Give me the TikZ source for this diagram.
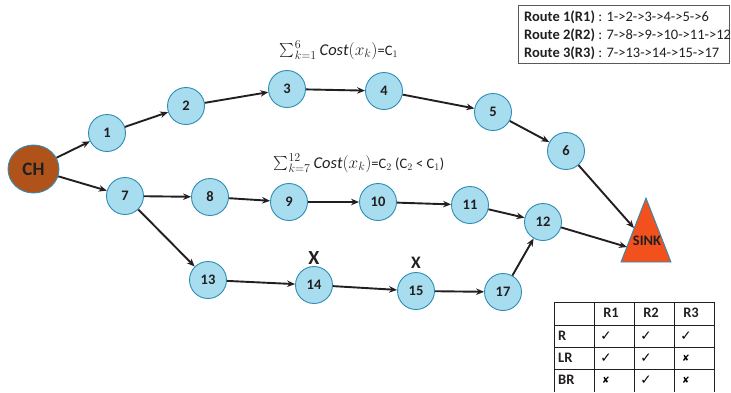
\documentclass[tikz,border=0pt]{standalone}
\usepackage{fontspec}
\setmainfont{Carlito}
\newfontfamily\symfont{DejaVu Sans}
\usetikzlibrary{arrows.meta,shapes.geometric}
\definecolor{nodefill}{HTML}{A8DCEF}
\definecolor{nodeedge}{HTML}{2F8DB6}
\definecolor{chfill}{HTML}{B0531B}
\definecolor{sinkfill}{HTML}{F2511E}
\definecolor{ink}{HTML}{231F20}
\tikzset{
  hop/.style={circle, draw=nodeedge, line width=0.9pt, fill=nodefill,
    minimum size=37pt, inner sep=0pt, text=ink, font=\bfseries\fontsize{14.5}{16}\selectfont},
  link/.style={draw=ink, line width=1.9pt, -{Stealth[length=8pt,width=6.5pt]}},
  lbl/.style={text=ink, font=\fontsize{14.5}{16}\selectfont, inner sep=0pt},
  cell/.style={text=ink, font=\bfseries\fontsize{14.5}{16}\selectfont, inner sep=0pt},
  brk/.style={text=ink, font=\bfseries\fontsize{20}{22}\selectfont, inner sep=0pt}
}
\newcommand{\yes}{{\symfont\fontsize{13.5}{14}\selectfont ✓}}
\newcommand{\no}{{\symfont\fontsize{9}{12}\selectfont ✘}}
\newcommand{\bigsum}{\mathop{\vcenter{\hbox{\scalebox{1.4}{$\textstyle\sum$}}}}\nolimits}
\newcommand{\costsum}[2]{{\fontsize{16.5}{18}\selectfont$\bigsum_{k=#1}^{#2}\mathit{Cost}(x_k)$}}
\begin{document}
\begin{tikzpicture}[x=1pt,y=-1pt]
\useasboundingbox (0,0) rectangle (731,392);

% cluster head and sink
\node[ellipse, draw=nodeedge, line width=0.9pt, fill=chfill, minimum width=51pt,
      minimum height=48pt, inner sep=0pt, text=ink, font=\bfseries\fontsize{19}{21}\selectfont]
      (ch) at (33.5,169) {CH};
\draw[draw=nodeedge, line width=0.9pt, fill=sinkfill] (646,198) -- (671,262) -- (621,262) -- cycle;
\node[cell] (sink) at (647,241) {SINK};
\coordinate (sinkA) at (634,228);
\coordinate (sinkB) at (627,247);

% route 1
\node[hop] (n1) at (107,133) {1};
\node[hop] (n2) at (186,106) {2};
\node[hop] (n3) at (287,89) {3};
\node[hop] (n4) at (384,91) {4};
\node[hop] (n5) at (493,112) {5};
\node[hop] (n6) at (566,151) {6};
% route 2
\node[hop] (n7) at (125,196) {7};
\node[hop] (n8) at (210,197) {8};
\node[hop] (n9) at (289,202) {9};
\node[hop] (n10) at (378,202) {10};
\node[hop] (n11) at (470,205) {11};
\node[hop] (n12) at (543,222) {12};
% route 3
\node[hop] (n13) at (208,280) {13};
\node[hop] (n14) at (314,285) {14};
\node[hop] (n15) at (416,291) {15};
\node[hop] (n17) at (503,292) {17};

% broken links
\node[brk] (x14) at (314,258) {X};
\node[brk, font=\bfseries\fontsize{17.5}{20}\selectfont] (x15) at (416,263) {X};

% links
\draw[link] (ch) -- (n1);
\draw[link] (n1) -- (n2);
\draw[link] (n2) -- (n3);
\draw[link] (n3) -- (n4);
\draw[link] (n4) -- (n5);
\draw[link] (n5) -- (n6);
\draw[link] (n6) -- (sinkA);
\draw[link] (ch) -- (n7);
\draw[link] (n7) -- (n8);
\draw[link] (n8) -- (n9);
\draw[link] (n9) -- (n10);
\draw[link] (n10) -- (n11);
\draw[link] (n11) -- (n12);
\draw[link] (n12) -- (sinkB);
\draw[link] (n7) -- (n13);
\draw[link] (n13) -- (n14);
\draw[link] (n14) -- (n15);
\draw[link] (n15) -- (n17);
\draw[link] (n17) -- (n12);

% path costs
\node[lbl] (cost1) at (339,50) {\costsum{1}{6}=C$_1$};
\node[lbl] (cost2) at (359,163) {\costsum{7}{12}=C$_2$ (C$_2$ < C$_1$)};

% route legend
\draw[draw=black!65, line width=0.8pt] (518,5) rectangle (729,63);
\node[lbl, anchor=west] (r1) at (524,17) {\textbf{Route 1(R1)} : 1->2->3->4->5->6};
\node[lbl, anchor=west] (r2) at (524,35) {\textbf{Route 2(R2)} : 7->8->9->10->11->12};
\node[lbl, anchor=west] (r3) at (524,53) {\textbf{Route 3(R3)} : 7->13->14->15->17};

% reliability table
\draw[draw=ink, line width=0.8pt] (554,392) -- (554,302) -- (714,302) -- (714,392);
\foreach \y in {325,347,369} \draw[draw=ink, line width=0.8pt] (554,\y) -- (714,\y);
\foreach \x in {594,634,674} \draw[draw=ink, line width=0.8pt] (\x,302) -- (\x,392);
\node[cell] (h1) at (611,313) {R1};
\node[cell] (h2) at (651,313) {R2};
\node[cell] (h3) at (691,313) {R3};
\node[cell, anchor=west] (rR) at (558,336) {R};
\node[cell, anchor=west] (rLR) at (558,358) {LR};
\node[cell, anchor=west] (rBR) at (558,380) {BR};
\node[inner sep=0pt] (c11) at (606,336) {\yes};
\node[inner sep=0pt] (c12) at (646,336) {\yes};
\node[inner sep=0pt] (c13) at (686,336) {\yes};
\node[inner sep=0pt] (c21) at (606,358) {\yes};
\node[inner sep=0pt] (c22) at (646,358) {\yes};
\node[inner sep=0pt] (c23) at (686,358) {\no};
\node[inner sep=0pt] (c31) at (606,380) {\no};
\node[inner sep=0pt] (c32) at (646,380) {\yes};
\node[inner sep=0pt] (c33) at (686,380) {\no};
\end{tikzpicture}
\end{document}
